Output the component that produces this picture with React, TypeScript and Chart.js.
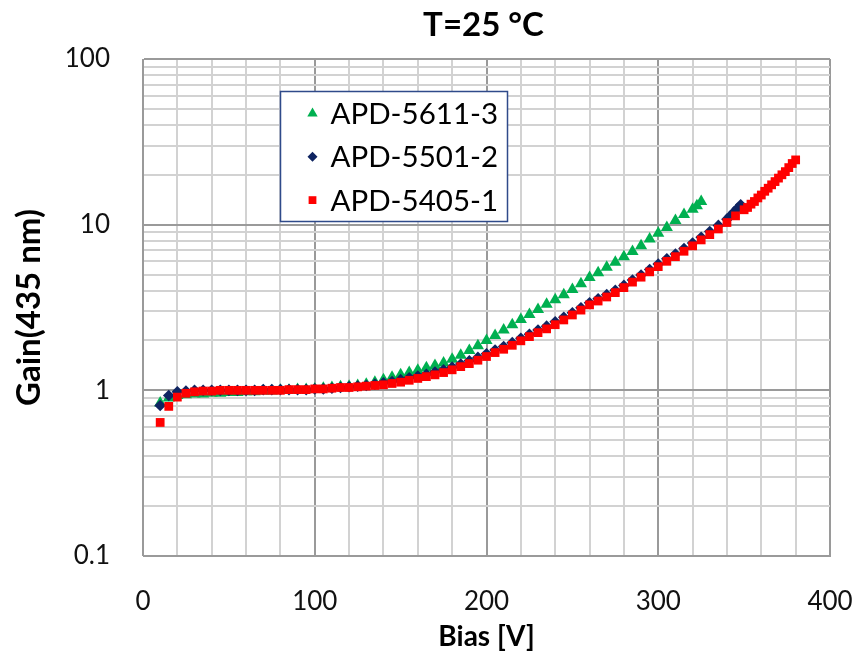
import React, { useEffect, useRef } from 'react';
import { Chart, registerables } from 'chart.js';

Chart.register(...registerables);

const TITLE = 'T=25 °C';
const X_TITLE = 'Bias [V]';
const Y_TITLE = 'Gain(435 nm)';
const SERIES_NAMES = ['APD-5611-3', 'APD-5501-2', 'APD-5405-1'];

const X_TICKS = [0, 20, 40, 60, 80, 100, 120, 140, 160, 180, 200, 220, 240, 260, 280, 300, 320, 340, 360, 380, 400];
const X_LABELED = [0, 100, 200, 300, 400];
const Y_TICKS = [0.1, 0.2, 0.3, 0.4, 0.5, 0.6, 0.7, 0.8, 0.9, 1, 2, 3, 4, 5, 6, 7, 8, 9, 10, 20, 30, 40, 50, 60, 70, 80, 90, 100];
const Y_LABELED = [0.1, 1, 10, 100];

// APD-5611-3 (green triangles)
const biasA = [10, 15, 20, 25, 30, 35, 40, 45, 50, 55, 60, 65, 70, 75, 80, 85, 90, 95, 100, 105, 110, 115, 120, 125, 130, 135, 140, 145, 150, 155, 160, 165, 170, 175, 180, 185, 190, 195, 200, 205, 210, 215, 220, 225, 230, 235, 240, 245, 250, 255, 260, 265, 270, 275, 280, 285, 290, 295, 300, 305, 310, 315, 320, 322.5, 325];
const gainA = [0.84, 0.9, 0.93, 0.94, 0.95, 0.95, 0.96, 0.96, 0.97, 0.97, 0.98, 0.98, 0.99, 0.99, 1.0, 1.0, 1.01, 1.01, 1.02, 1.03, 1.04, 1.05, 1.06, 1.07, 1.09, 1.12, 1.16, 1.2, 1.24, 1.28, 1.32, 1.37, 1.41, 1.46, 1.54, 1.63, 1.74, 1.86, 2.0, 2.14, 2.31, 2.49, 2.68, 2.87, 3.08, 3.31, 3.52, 3.78, 4.06, 4.4, 4.8, 5.12, 5.53, 5.93, 6.41, 6.88, 7.47, 8.2, 8.87, 9.63, 10.6, 11.5, 12.4, 13.0, 13.8];

// APD-5501-2 (navy diamonds)
const biasB = [10, 15, 20, 25, 30, 35, 40, 45, 50, 55, 60, 65, 70, 75, 80, 85, 90, 95, 100, 105, 110, 115, 120, 125, 130, 135, 140, 145, 150, 155, 160, 165, 170, 175, 180, 185, 190, 195, 200, 205, 210, 215, 220, 225, 230, 235, 240, 245, 250, 255, 260, 265, 270, 275, 280, 285, 290, 295, 300, 305, 310, 315, 320, 325, 330, 335, 340, 342, 344, 346, 348];
const gainB = [0.81, 0.93, 0.98, 0.99, 1.0, 1.0, 1.0, 1.0, 1.0, 1.0, 1.0, 1.0, 1.01, 1.01, 1.01, 1.01, 1.01, 1.01, 1.02, 1.02, 1.03, 1.04, 1.05, 1.06, 1.07, 1.09, 1.11, 1.13, 1.16, 1.19, 1.22, 1.25, 1.29, 1.33, 1.38, 1.44, 1.51, 1.58, 1.66, 1.75, 1.84, 1.94, 2.06, 2.18, 2.31, 2.44, 2.59, 2.76, 2.94, 3.15, 3.38, 3.57, 3.78, 4.02, 4.3, 4.63, 4.97, 5.36, 5.78, 6.22, 6.65, 7.17, 7.75, 8.39, 9.1, 9.9, 10.8, 11.3, 11.9, 12.5, 13.2];

// APD-5405-1 (red squares)
const biasC = [10, 15, 20, 25, 30, 35, 40, 45, 50, 55, 60, 65, 70, 75, 80, 85, 90, 95, 100, 105, 110, 115, 120, 125, 130, 135, 140, 145, 150, 155, 160, 165, 170, 175, 180, 185, 190, 195, 200, 205, 210, 215, 220, 225, 230, 235, 240, 245, 250, 255, 260, 265, 270, 275, 280, 285, 290, 295, 300, 305, 310, 315, 320, 325, 330, 335, 340, 345, 350, 352, 354, 356, 358, 360, 362, 364, 366, 368, 370, 372, 374, 376, 378, 380];
const gainC = [0.64, 0.8, 0.91, 0.96, 0.98, 0.99, 0.99, 1.0, 1.0, 1.0, 1.0, 1.0, 1.0, 1.0, 1.0, 1.01, 1.01, 1.01, 1.02, 1.02, 1.03, 1.04, 1.04, 1.05, 1.06, 1.07, 1.08, 1.1, 1.12, 1.15, 1.18, 1.21, 1.24, 1.28, 1.33, 1.39, 1.45, 1.52, 1.6, 1.69, 1.77, 1.87, 1.99, 2.11, 2.23, 2.35, 2.49, 2.66, 2.85, 3.05, 3.28, 3.46, 3.66, 3.89, 4.17, 4.5, 4.82, 5.19, 5.58, 6.01, 6.41, 6.91, 7.45, 8.09, 8.71, 9.42, 10.3, 11.3, 12.3, 12.7, 13.3, 13.8, 14.5, 15.1, 15.9, 16.6, 17.4, 18.2, 19.1, 20.0, 20.9, 22.1, 23.4, 24.6];

const GREEN = '#00B050';
const NAVY = '#0F2461';
const RED = '#FF0000';
const FONT = 'Lato, "Open Sans", sans-serif';

const pairs = (xs: number[], ys: number[]) => xs.map((x, i) => ({ x, y: ys[i] }));
const isDecade = (v: number) => Math.abs(Math.log10(v) - Math.round(Math.log10(v))) < 1e-6;

function drawMarker(ctx: CanvasRenderingContext2D, kind: string, x: number, y: number, r: number, color: string) {
  ctx.fillStyle = color;
  ctx.beginPath();
  if (kind === 'triangle') {
    ctx.moveTo(x, y - r);
    ctx.lineTo(x + r * 0.866, y + r * 0.5);
    ctx.lineTo(x - r * 0.866, y + r * 0.5);
  } else if (kind === 'diamond') {
    ctx.moveTo(x, y - r);
    ctx.lineTo(x + r, y);
    ctx.lineTo(x, y + r);
    ctx.lineTo(x - r, y);
  } else {
    const s = r * Math.SQRT1_2;
    ctx.rect(x - s, y - s, 2 * s, 2 * s);
  }
  ctx.closePath();
  ctx.fill();
}

const overlayPlugin = {
  id: 'overlay',
  afterDraw(chart: any) {
    const ctx: CanvasRenderingContext2D = chart.ctx;
    const { left, right, top } = chart.chartArea;
    ctx.save();
    // title centred over the plot area
    ctx.fillStyle = '#000';
    ctx.font = `bold 33px ${FONT}`;
    ctx.textAlign = 'center';
    ctx.textBaseline = 'middle';
    ctx.fillText(TITLE, (left + right) / 2 - 3, top - 34);

    // legend box
    const bx = left + 137.5;
    const by = top + 32.5;
    const bw = 227;
    const bh = 130;
    ctx.fillStyle = '#ffffff';
    ctx.fillRect(bx, by, bw, bh);
    ctx.strokeStyle = '#2F4A8A';
    ctx.lineWidth = 1.5;
    ctx.strokeRect(bx, by, bw, bh);
    const kinds = ['triangle', 'diamond', 'square'];
    const colors = [GREEN, NAVY, RED];
    const radii = [6, 5, 5.5];
    ctx.font = `29.5px ${FONT}`;
    ctx.textAlign = 'left';
    ctx.textBaseline = 'middle';
    for (let i = 0; i < 3; i++) {
      const cy = by + 22 + i * 43.3;
      drawMarker(ctx, kinds[i], bx + 32, cy, radii[i], colors[i]);
      ctx.fillStyle = '#000';
      ctx.fillText(SERIES_NAMES[i], bx + 50, cy + 1);
    }
    ctx.restore();
  },
};

export default function App() {
  const canvasRef = useRef<HTMLCanvasElement | null>(null);

  useEffect(() => {
    if (!canvasRef.current) return;
    const chart = new Chart(canvasRef.current, {
      type: 'scatter',
      data: {
        datasets: [
          {
            label: SERIES_NAMES[2],
            data: pairs(biasC, gainC),
            pointStyle: 'rect',
            pointRadius: 6.2,
            backgroundColor: RED,
            borderWidth: 0,
            showLine: false,
          },
          {
            label: SERIES_NAMES[1],
            data: pairs(biasB, gainB),
            pointStyle: 'rectRot',
            pointRadius: 5.8,
            backgroundColor: NAVY,
            borderWidth: 0,
            showLine: false,
          },
          {
            label: SERIES_NAMES[0],
            data: pairs(biasA, gainA),
            pointStyle: 'triangle',
            pointRadius: 7,
            backgroundColor: GREEN,
            borderWidth: 0,
            showLine: false,
          },
        ],
      },
      options: {
        animation: false,
        responsive: true,
        maintainAspectRatio: false,
        layout: { padding: { top: 59, right: 28, bottom: 0, left: 0 } },
        plugins: {
          legend: { display: false },
          title: { display: false },
          tooltip: { enabled: false },
        },
        scales: {
          x: {
            type: 'linear',
            min: 0,
            max: 400,
            afterFit(scale: any) {
              scale.height = 103;
              scale.paddingLeft = 0;
              scale.paddingRight = 0;
            },
            afterBuildTicks(scale: any) {
              scale.ticks = X_TICKS.map((v) => ({ value: v }));
            },
            border: { display: true, color: '#9a9a9a', width: 1 },
            grid: {
              drawTicks: false,
              lineWidth: 2,
              color: (c: any) => (c.tick && c.tick.value % 100 === 0 ? '#9a9a9a' : '#d2d2d2'),
            },
            ticks: {
              autoSkip: false,
              maxRotation: 0,
              padding: 30,
              color: '#111',
              font: { family: FONT, size: 26 },
              callback: (v: any) => (X_LABELED.includes(Number(v)) ? String(v) : ''),
            },
            title: {
              display: true,
              text: X_TITLE,
              color: '#000',
              font: { family: FONT, size: 28, weight: 'bold' },
              padding: { top: 0, bottom: 5 },
            },
          },
          y: {
            type: 'logarithmic',
            min: 0.1,
            max: 100,
            afterFit(scale: any) {
              scale.width = 143;
              scale.paddingTop = 0;
              scale.paddingBottom = 0;
            },
            afterBuildTicks(scale: any) {
              scale.ticks = Y_TICKS.map((v) => ({ value: v }));
            },
            border: { display: true, color: '#9a9a9a', width: 1 },
            grid: {
              drawTicks: false,
              lineWidth: 2,
              color: (c: any) => (c.tick && isDecade(c.tick.value) ? '#9a9a9a' : '#d2d2d2'),
            },
            ticks: {
              autoSkip: false,
              padding: 33,
              color: '#111',
              font: { family: FONT, size: 26 },
              callback: (v: any) => {
                const n = Number(v);
                const hit = Y_LABELED.find((t) => Math.abs(t - n) / t < 1e-6);
                return hit !== undefined ? String(hit) : '';
              },
            },
            title: {
              display: true,
              text: Y_TITLE,
              color: '#000',
              font: { family: FONT, size: 33, weight: 'bold' },
              padding: { top: 10, bottom: 0 },
            },
          },
        },
      },
      plugins: [overlayPlugin],
    } as any);
    return () => chart.destroy();
  }, []);

  return (
    <div style={{ position: 'fixed', left: 0, top: 0, width: 858, height: 659, background: '#fff' }}>
      <canvas ref={canvasRef} />
    </div>
  );
}
